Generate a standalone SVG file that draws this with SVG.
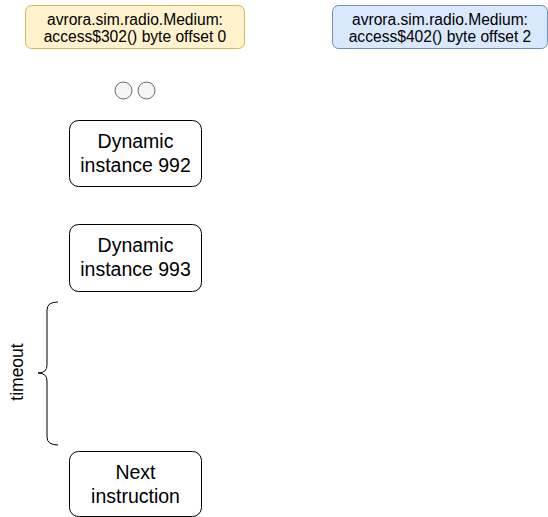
<svg xmlns="http://www.w3.org/2000/svg" width="548" height="517" viewBox="0 0 548 517">
<style>
  text { font-family: "Liberation Sans", Arial, sans-serif; fill: #000; text-anchor: middle; }
  .hdr { font-size: 15.6px; }
  .lbl { font-size: 19.5px; }
  .side { font-size: 17.5px; }
  .node { fill: #fff; stroke: #000; stroke-width: 1; }
  .dot { fill: #f5f5f5; stroke: #666; stroke-width: 1; }
</style>
<rect width="548" height="517" fill="#fff"/>
<g id="header-302">
  <rect x="25.5" y="5.5" width="219" height="43" rx="6" fill="#fff2cc" stroke="#d6b656"/>
  <text class="hdr" x="135" y="24.5">avrora.sim.radio.Medium:</text>
  <text class="hdr" x="135" y="42">access$302() byte offset 0</text>
</g>
<g id="header-402">
  <rect x="332.5" y="5.5" width="215" height="43" rx="6" fill="#dae8fc" stroke="#6c8ebf"/>
  <text class="hdr" x="440" y="24.5">avrora.sim.radio.Medium:</text>
  <text class="hdr" x="440" y="42">access$402() byte offset 2</text>
</g>
<g id="ellipsis">
  <circle class="dot" cx="123.5" cy="90.5" r="8.5"/>
  <circle class="dot" cx="146.5" cy="90.5" r="8.5"/>
</g>
<g id="instance-992">
  <rect class="node" x="69.5" y="120.5" width="132" height="66" rx="9"/>
  <text class="lbl" x="135.5" y="147.5">Dynamic</text>
  <text class="lbl" x="135.5" y="171.5">instance 992</text>
</g>
<g id="instance-993">
  <rect class="node" x="69.5" y="224.5" width="132" height="67" rx="9"/>
  <text class="lbl" x="135.5" y="252">Dynamic</text>
  <text class="lbl" x="135.5" y="276">instance 993</text>
</g>
<g id="next-instruction">
  <rect class="node" x="69.5" y="451.5" width="132" height="65" rx="9"/>
  <text class="lbl" x="135.5" y="478.5">Next</text>
  <text class="lbl" x="135.5" y="502.5">instruction</text>
</g>
<g id="connectors">
  <path d="M58 302 Q47 302 47 310 L47 365 Q47 373 38 373 Q47 373 47 381 L47 437 Q47 445 58 445" fill="none" stroke="#000" stroke-width="1"/>
</g>
<g id="timeout-label">
  <text class="side" x="0" y="0" transform="translate(23 372) rotate(-90)">timeout</text>
</g>
</svg>
